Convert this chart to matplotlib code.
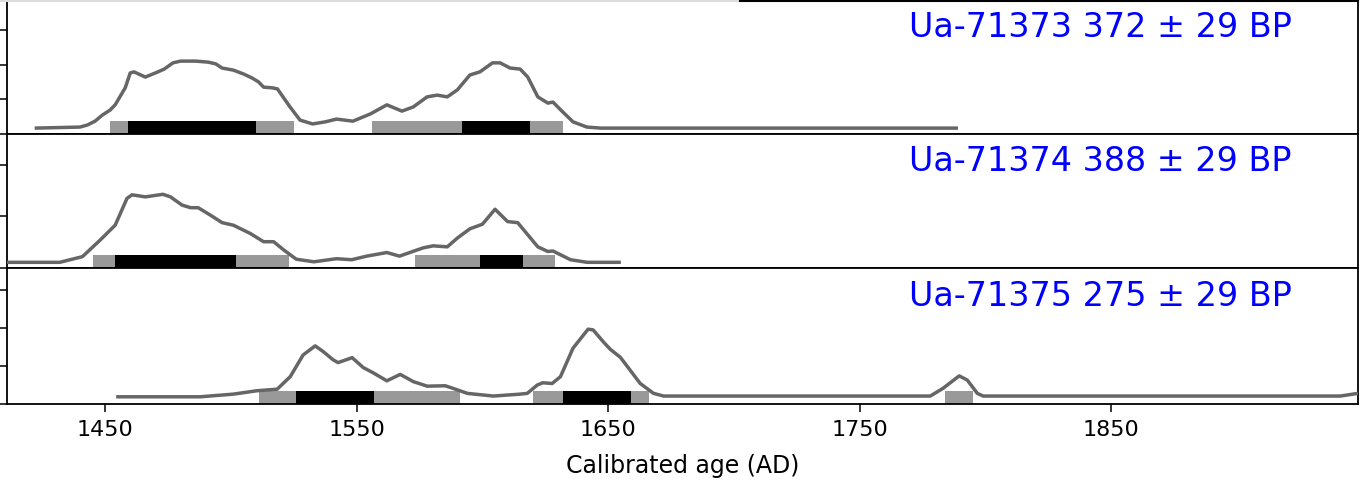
import matplotlib
matplotlib.use("Agg")
import matplotlib.pyplot as plt
from matplotlib.lines import Line2D

# ---- data -------------------------------------------------------------
labels = ["Ua-71373 372 ± 29 BP", "Ua-71374 388 ± 29 BP", "Ua-71375 275 ± 29 BP"]

years_1 = [1422, 1440, 1443, 1446, 1449, 1452, 1454, 1458, 1460, 1461.5, 1466, 1469, 1471,
           1473.5, 1477, 1480, 1486, 1491, 1494, 1496.5, 1501, 1505, 1508.5, 1511, 1513,
           1516.5, 1518.5, 1523.5, 1527.5, 1532.5, 1537.5, 1542, 1548.5, 1555.5, 1562, 1568,
           1572.5, 1578, 1582, 1586, 1590, 1595, 1599, 1604, 1607, 1611, 1615, 1618, 1622,
           1626, 1628, 1632, 1636, 1641.5, 1647, 1789]
dens_1 = [0.17, 0.20, 0.26, 0.37, 0.55, 0.69, 0.84, 1.33, 1.76, 1.79, 1.64, 1.73, 1.79,
          1.87, 2.05, 2.10, 2.10, 2.07, 2.02, 1.90, 1.84, 1.73, 1.61, 1.50, 1.35,
          1.33, 1.30, 0.78, 0.40, 0.29, 0.35, 0.43, 0.37, 0.58, 0.84, 0.66,
          0.78, 1.07, 1.12, 1.07, 1.27, 1.70, 1.79, 2.05, 2.05, 1.90, 1.87, 1.64, 1.07,
          0.89, 0.92, 0.63, 0.35, 0.20, 0.17, 0.17]
r95_1 = [(1452, 1525), (1556, 1632)]
r68_1 = [(1459, 1510), (1592, 1619)]

years_2 = [1400, 1432, 1441, 1448, 1454, 1458.7, 1460.7, 1466, 1473, 1476, 1480.6, 1484,
           1487, 1491.7, 1496.5, 1501, 1507.7, 1513, 1517, 1521, 1526, 1533, 1542, 1548,
           1554, 1562, 1567, 1576.4, 1580.4, 1586, 1590, 1595, 1600, 1605, 1610, 1614,
           1622, 1626, 1628, 1635, 1641.6, 1655]
dens_2 = [0.11, 0.11, 0.22, 0.54, 0.83, 1.35, 1.42, 1.38, 1.43, 1.38, 1.22, 1.17,
          1.17, 1.03, 0.88, 0.83, 0.67, 0.51, 0.51, 0.35, 0.17, 0.12, 0.18, 0.16,
          0.23, 0.30, 0.23, 0.39, 0.43, 0.41, 0.58, 0.76, 0.85, 1.14, 0.90, 0.88,
          0.41, 0.32, 0.33, 0.16, 0.11, 0.11]
r95_2 = [(1445, 1523), (1573, 1629)]
r68_2 = [(1454, 1502), (1599, 1616)]

years_3 = [1454.4, 1487.8, 1501, 1510.4, 1518.4, 1523.6, 1528.7, 1533.5, 1536.7, 1540.7,
           1542.6, 1548.2, 1552.6, 1556.6, 1562, 1567.3, 1572.5, 1578, 1585.2, 1588.4,
           1594, 1604.3, 1615, 1617.8, 1621.8, 1624, 1627.7, 1631, 1636, 1642, 1644,
           1648, 1650.8, 1654.8, 1658.7, 1662.7, 1668, 1672, 1778, 1783, 1789.5, 1792.7,
           1796.7, 1799, 1941, 1948, 1955]
dens_3 = [0.19, 0.19, 0.26, 0.35, 0.39, 0.72, 1.29, 1.53, 1.38, 1.16,
          1.09, 1.22, 0.96, 0.82, 0.61, 0.78, 0.59, 0.47, 0.48, 0.41,
          0.28, 0.21, 0.26, 0.28, 0.50, 0.56, 0.54, 0.72, 1.47, 1.97, 1.95,
          1.64, 1.44, 1.23, 0.89, 0.54, 0.28, 0.21, 0.21, 0.41, 0.74, 0.63,
          0.28, 0.21, 0.21, 0.28, 0.40]
r95_3 = [(1511, 1591), (1620, 1666), (1784, 1795)]
r68_3 = [(1526, 1557), (1632, 1659)]

xticks = [1450, 1550, 1650, 1750, 1850]
xlabel = "Calibrated age (AD)"

panels = [
    (years_1, dens_1, r95_1, r68_1, labels[0], 3.86, [0, 1, 2, 3]),
    (years_2, dens_2, r95_2, r68_2, labels[1], 2.60, [0, 1, 2]),
    (years_3, dens_3, r95_3, r68_3, labels[2], 3.58, [0, 1, 2, 3]),
]

# ---- figure -------------------------------------------------------------
fig = plt.figure(figsize=(13.67, 4.8), dpi=100)
left, width = 0.0051, 0.9883
boxes = [(0.7208, 0.2792), (0.4417, 0.2791), (0.1583, 0.2834)]

axes = []
for (yrs, dens, r95, r68, lab, ytop, yt), (b, h) in zip(panels, boxes):
    ax = fig.add_axes([left, b, width, h])
    ax.set_xlim(1411, 1948)
    ax.set_ylim(0, ytop)
    for lo, hi in r95:
        ax.axvspan(lo, hi, ymin=0, ymax=0.097, color="#999999", lw=0, zorder=1)
    for lo, hi in r68:
        ax.axvspan(lo, hi, ymin=0, ymax=0.097, color="black", lw=0, zorder=2)
    ax.plot(yrs, dens, color="#666666", lw=2.5, zorder=3,
            solid_capstyle="butt", solid_joinstyle="round")
    ax.text(0.951, 0.724, lab, transform=ax.transAxes, ha="right", va="baseline",
            fontsize=24, color="blue")
    ax.set_yticks(yt)
    ax.set_yticklabels([])
    ax.tick_params(axis="y", direction="out", length=5, width=1.1, left=True, right=False)
    for s in ax.spines.values():
        s.set_linewidth(1.3)
        s.set_color("black")
    axes.append(ax)

axes[0].spines["top"].set_visible(False)
for ax in axes[:2]:
    ax.set_xticks([])
axes[2].set_xticks(xticks)
axes[2].set_xticklabels([str(t) for t in xticks], fontsize=16)
axes[2].tick_params(axis="x", direction="out", length=5.5, width=1.1, pad=6)
axes[2].set_xlabel(xlabel, fontsize=17, labelpad=10)

# partial border line at the very top of the image
fig.add_artist(Line2D([0.0, 0.541], [0.998, 0.998], transform=fig.transFigure,
                      color="#dddddd", lw=1.5))
fig.add_artist(Line2D([0.541, 0.9934], [0.998, 0.998], transform=fig.transFigure,
                      color="black", lw=1.5))

fig.savefig("out.png", dpi=100)
